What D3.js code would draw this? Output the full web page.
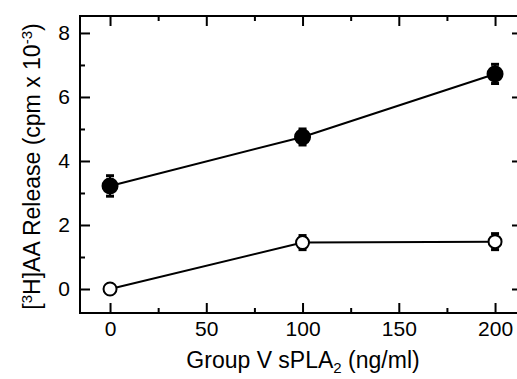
<!DOCTYPE html>
<html>
<head>
<meta charset="utf-8">
<script src="https://cdn.jsdelivr.net/npm/d3@7"></script>
<style>
  body { margin: 0; background: #fff; }
  text { font-family: "Liberation Sans", Arial, sans-serif; fill: #000; }
</style>
</head>
<body>
<svg id="chart" width="517" height="379"></svg>
<script>
// doses of group V sPLA2 (ng/ml)
var doses = [0, 100, 200];
// [3H]AA release, cpm x 10^-3
var filledVals = [3.22, 4.75, 6.72];
var filledErr  = [0.32, 0.25, 0.3];
var openVals   = [0.0, 1.45, 1.48];
var openErr    = [0.08, 0.22, 0.25];

var xMajor = [0, 50, 100, 150, 200];
var xMinor = [25, 75, 125, 175];
var yMajor = [0, 2, 4, 6, 8];
var yMinor = [1, 3, 5, 7];

var pLeft = 80, pRight = 522, pTop = 16, pBottom = 313;

var svg = d3.select("#chart");

var x = d3.scaleLinear().domain([-15.6, 214]).range([pLeft, pRight]);
var y = d3.scaleLinear().domain([-0.75, 8.53]).range([pBottom, pTop]);

// frame
svg.append("rect")
  .attr("x", pLeft).attr("y", pTop)
  .attr("width", pRight - pLeft).attr("height", pBottom - pTop)
  .attr("fill", "none").attr("stroke", "#000").attr("stroke-width", 2);

function tickLines(g) {
  g.select(".domain").remove();
  g.selectAll("line").attr("stroke", "#000").attr("stroke-width", 2);
}

// left axis, ticks inward
svg.append("g").attr("transform", "translate(" + pLeft + ",0)")
  .call(d3.axisRight(y).tickValues(yMinor).tickSize(5).tickFormat(""))
  .call(tickLines);
svg.append("g").attr("transform", "translate(" + pLeft + ",0)")
  .call(d3.axisRight(y).tickValues(yMajor).tickSize(10).tickFormat(""))
  .call(tickLines);
svg.append("g").attr("transform", "translate(" + (pLeft - 10) + ",0)")
  .call(d3.axisLeft(y).tickValues(yMajor).tickSize(0).tickPadding(0).tickFormat(d3.format("d")))
  .call(function (g) {
    g.select(".domain").remove();
    g.selectAll("text").style("font-size", "21px");
  });

// right axis
svg.append("g").attr("transform", "translate(" + pRight + ",0)")
  .call(d3.axisLeft(y).tickValues(yMajor).tickSize(10).tickFormat(""))
  .call(tickLines);

// bottom axis
svg.append("g").attr("transform", "translate(0," + pBottom + ")")
  .call(d3.axisTop(x).tickValues(xMinor).tickSize(5).tickFormat(""))
  .call(tickLines);
svg.append("g").attr("transform", "translate(0," + pBottom + ")")
  .call(d3.axisTop(x).tickValues(xMajor).tickSize(10).tickFormat(""))
  .call(tickLines);
svg.append("g").attr("transform", "translate(0," + (pBottom + 8) + ")")
  .call(d3.axisBottom(x).tickValues(xMajor).tickSize(0).tickPadding(0).tickFormat(d3.format("d")))
  .call(function (g) {
    g.select(".domain").remove();
    g.selectAll("text").style("font-size", "21px");
  });

// top axis
svg.append("g").attr("transform", "translate(0," + pTop + ")")
  .call(d3.axisBottom(x).tickValues(xMinor).tickSize(5).tickFormat(""))
  .call(tickLines);
svg.append("g").attr("transform", "translate(0," + pTop + ")")
  .call(d3.axisBottom(x).tickValues(xMajor).tickSize(10).tickFormat(""))
  .call(tickLines);

// axis titles
var xt = svg.append("text")
  .attr("x", (pLeft + 516) / 2 + 5).attr("y", 368)
  .attr("text-anchor", "middle").style("font-size", "23px");
xt.append("tspan").text("Group V sPLA");
xt.append("tspan").attr("dy", 5).style("font-size", "15px").text("2");
xt.append("tspan").attr("dy", -5).text(" (ng/ml)");

var yt = svg.append("text")
  .attr("transform", "translate(40," + ((pTop + pBottom) / 2 + 2) + ") rotate(-90)")
  .attr("text-anchor", "middle").style("font-size", "23px");
yt.append("tspan").text("[");
yt.append("tspan").attr("dy", -8).style("font-size", "15px").text("3");
yt.append("tspan").attr("dy", 8).text("H]AA Release (cpm x 10");
yt.append("tspan").attr("dy", -8).style("font-size", "15px").text("-3");
yt.append("tspan").attr("dy", 8).text(")");

function series(vals, errs, filled) {
  var pts = doses.map(function (d, i) { return { x: d, y: vals[i], e: errs[i] }; });
  var line = d3.line().x(function (d) { return x(d.x); }).y(function (d) { return y(d.y); });
  svg.append("path").datum(pts)
    .attr("d", line).attr("fill", "none").attr("stroke", "#000").attr("stroke-width", 2);
  var g = svg.append("g");
  g.selectAll(".err").data(pts).enter().append("line")
    .attr("x1", function (d) { return x(d.x); }).attr("x2", function (d) { return x(d.x); })
    .attr("y1", function (d) { return y(d.y - d.e); }).attr("y2", function (d) { return y(d.y + d.e); })
    .attr("stroke", "#000").attr("stroke-width", 2);
  g.selectAll(".capT").data(pts).enter().append("line")
    .attr("x1", function (d) { return x(d.x) - 4; }).attr("x2", function (d) { return x(d.x) + 4; })
    .attr("y1", function (d) { return y(d.y + d.e); }).attr("y2", function (d) { return y(d.y + d.e); })
    .attr("stroke", "#000").attr("stroke-width", 3);
  g.selectAll(".capB").data(pts).enter().append("line")
    .attr("x1", function (d) { return x(d.x) - 4; }).attr("x2", function (d) { return x(d.x) + 4; })
    .attr("y1", function (d) { return y(d.y - d.e); }).attr("y2", function (d) { return y(d.y - d.e); })
    .attr("stroke", "#000").attr("stroke-width", 3);
  g.selectAll("circle").data(pts).enter().append("circle")
    .attr("cx", function (d) { return x(d.x); }).attr("cy", function (d) { return y(d.y); })
    .attr("r", filled ? 7.5 : 6.5)
    .attr("fill", filled ? "#000" : "#fff")
    .attr("stroke", "#000").attr("stroke-width", 2);
}

series(openVals, openErr, false);
series(filledVals, filledErr, true);
</script>
</body>
</html>
